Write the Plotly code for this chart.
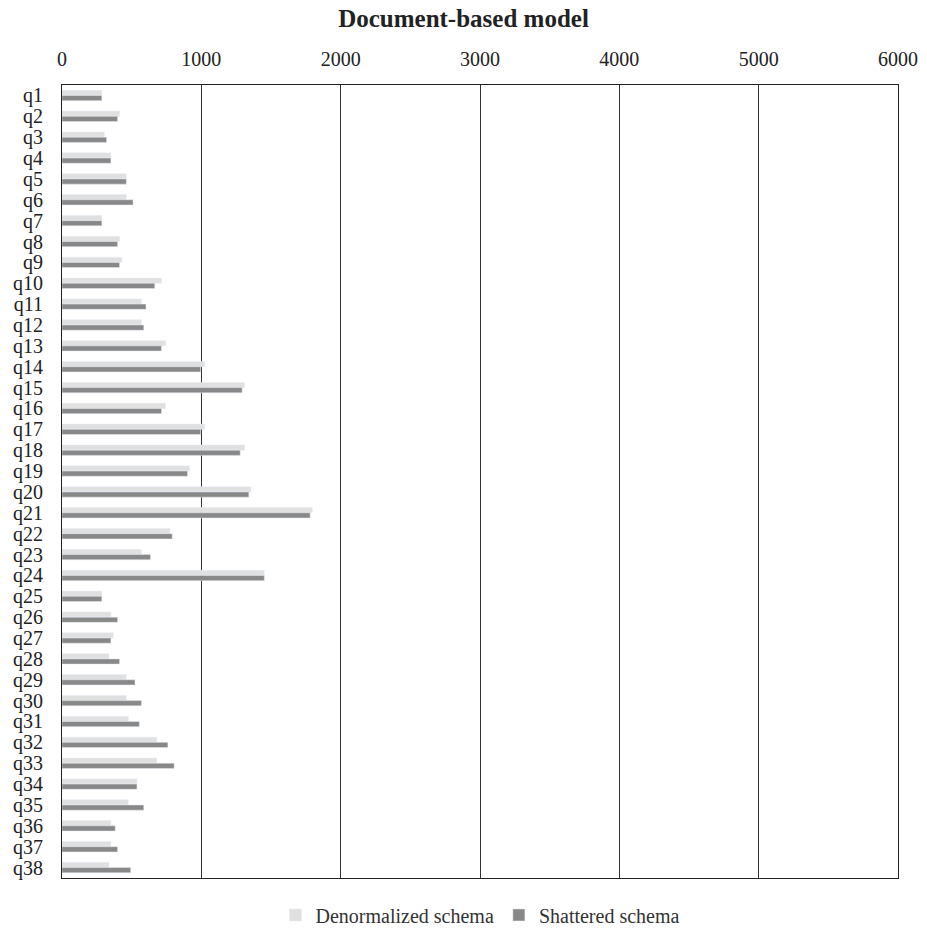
import plotly.graph_objects as go

categories = [f"q{i}" for i in range(1, 39)]
denormalized = [286, 413, 303, 351, 462, 462, 286, 413, 430, 714,
                570, 570, 743, 1024, 1310, 743, 1024, 1310, 916, 1356,
                1796, 774, 570, 1452, 286, 351, 368, 337, 462, 462,
                476, 680, 680, 538, 476, 351, 351, 337]
shattered = [286, 399, 320, 351, 462, 510, 286, 399, 413, 666,
             603, 587, 714, 995, 1293, 714, 995, 1279, 901, 1341,
             1781, 791, 635, 1452, 286, 399, 351, 413, 524, 570,
             555, 760, 805, 538, 587, 382, 399, 493]
x_ticks = [0, 1000, 2000, 3000, 4000, 5000, 6000]

fig = go.Figure()
fig.add_trace(go.Bar(y=categories, x=denormalized, orientation="h",
                     name="Denormalized schema", marker_color="#E0E0E0"))
fig.add_trace(go.Bar(y=categories, x=shattered, orientation="h",
                     name="Shattered schema", marker_color="#888888"))

font = "Liberation Serif"
fig.update_layout(
    width=927, height=933,
    paper_bgcolor="white", plot_bgcolor="white",
    barmode="group", bargap=0.5, bargroupgap=0,
    margin=dict(l=62, r=29, t=85, b=55, autoexpand=False),
    font=dict(family=font, size=20, color="#222222"),
    title=dict(text="<b>Document-based model</b>", x=0.5, xanchor="center",
               y=1 - 18 / 933, yanchor="middle", font=dict(family=font, size=25, color="#222222")),
    legend=dict(orientation="h", x=0.5, xanchor="center", y=-0.022, yanchor="top",
                font=dict(family=font, size=20, color="#333333"),
                itemwidth=30, traceorder="normal"),
    xaxis=dict(side="top", range=[0, 6000], tickvals=x_ticks,
               showgrid=True, gridcolor="#333333", gridwidth=1,
               showline=True, linecolor="#222222", linewidth=1, mirror=True,
               zeroline=False, ticks="", ticklabelstandoff=10, automargin=False),
    yaxis=dict(autorange="reversed", showgrid=False, tickmode="array",
               tickvals=categories, ticktext=categories, tickfont=dict(size=20),
               showline=True, linecolor="#222222", linewidth=1, mirror=True,
               ticks="", ticklabelstandoff=14, automargin=False),
)
fig.write_html("out.html", config={"displayModeBar": False},
               post_script="document.body.style.margin='0';document.body.style.overflow='hidden';")
